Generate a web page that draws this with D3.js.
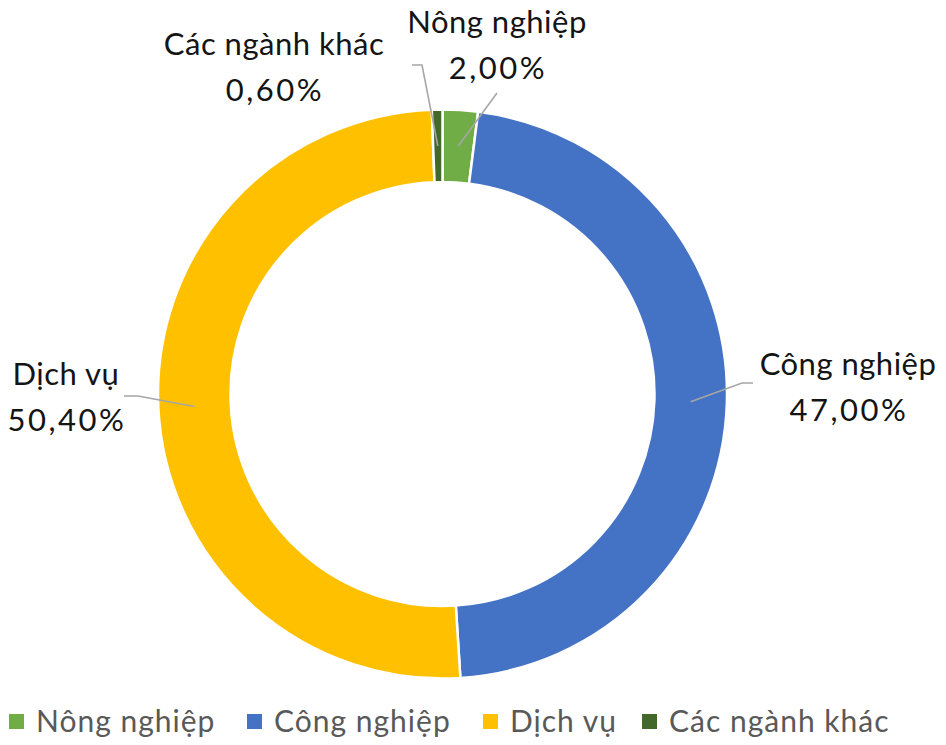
<!DOCTYPE html>
<html>
<head>
<meta charset="utf-8">
<script src="https://cdn.jsdelivr.net/npm/d3@7"></script>
<style>
  html, body { margin: 0; padding: 0; background: #fff; }
  svg { display: block; }
</style>
</head>
<body>
<svg id="chart" width="946" height="745"></svg>
<script>
// ---- data ----
const categories = ["Nông nghiệp", "Công nghiệp", "Dịch vụ", "Các ngành khác"];
const values = [2.0, 47.0, 50.4, 0.6];
const valueLabels = ["2,00%", "47,00%", "50,40%", "0,60%"];
const colors = ["#70AD47", "#4472C4", "#FFC000", "#43682B"];

// ---- layout ----
const W = 946, H = 745;
const cx = 442.5, cy = 394;
const outerR = 284.5, innerR = 212;
const fontFam = "Lato, 'Noto Sans', sans-serif";

// label anchor layout (text center x, first baseline y, leader path points)
const labelLayout = [
  { tx: 497, ty: 33, pts: [[497, 93]] },
  { tx: 848, ty: 375, pts: [[742, 383], [753, 383]] },
  { tx: 66,  ty: 385, pts: [[138, 396], [124, 396]] },
  { tx: 274, ty: 55, pts: [[422, 65], [412, 65]] }
];

const svg = d3.select("#chart");
const data = categories.map((c, i) => ({ name: c, value: values[i], label: valueLabels[i], color: colors[i], i }));

const pie = d3.pie().value(d => d.value).sort(null).startAngle(0).endAngle(2 * Math.PI);
const arc = d3.arc().innerRadius(innerR).outerRadius(outerR);
const arcs = pie(data);

const g = svg.append("g").attr("transform", `translate(${cx},${cy})`);
g.selectAll("path.slice")
  .data(arcs)
  .join("path")
  .attr("class", "slice")
  .attr("d", arc)
  .attr("fill", d => d.data.color)
  .attr("stroke", "#fff")
  .attr("stroke-width", 2.5)
  .attr("stroke-linejoin", "miter");

// leader lines
const line = d3.line();
arcs.forEach((a, i) => {
  const c = arc.centroid(a);
  const start = [cx + c[0], cy + c[1]];
  const L = labelLayout[i];
  svg.append("path")
    .attr("d", line([start, ...L.pts]))
    .attr("fill", "none")
    .attr("stroke", "#A6A6A6")
    .attr("stroke-width", 1.6);
});

// labels
arcs.forEach((a, i) => {
  const L = labelLayout[i];
  const t = svg.append("text")
    .attr("text-anchor", "middle")
    .attr("font-family", fontFam)
    .attr("font-size", 31)
    .attr("fill", "#141414");
  t.append("tspan").attr("x", L.tx).attr("y", L.ty)
    .attr("letter-spacing", 0.5).text(a.data.name);
  t.append("tspan").attr("x", L.tx + 1).attr("y", L.ty + 46)
    .attr("letter-spacing", 2.5).text(a.data.label);
});

// legend
const legendX = [9, 247, 483, 642];
const legendY = 714;
const lg = svg.append("g");
data.forEach((d, i) => {
  lg.append("rect")
    .attr("x", legendX[i]).attr("y", legendY)
    .attr("width", 15).attr("height", 15)
    .attr("fill", d.color);
  lg.append("text")
    .attr("x", legendX[i] + 27).attr("y", legendY + 18)
    .attr("font-family", fontFam)
    .attr("font-size", 30)
    .attr("letter-spacing", 1)
    .attr("fill", "#595959")
    .text(d.name);
});
</script>
</body>
</html>
